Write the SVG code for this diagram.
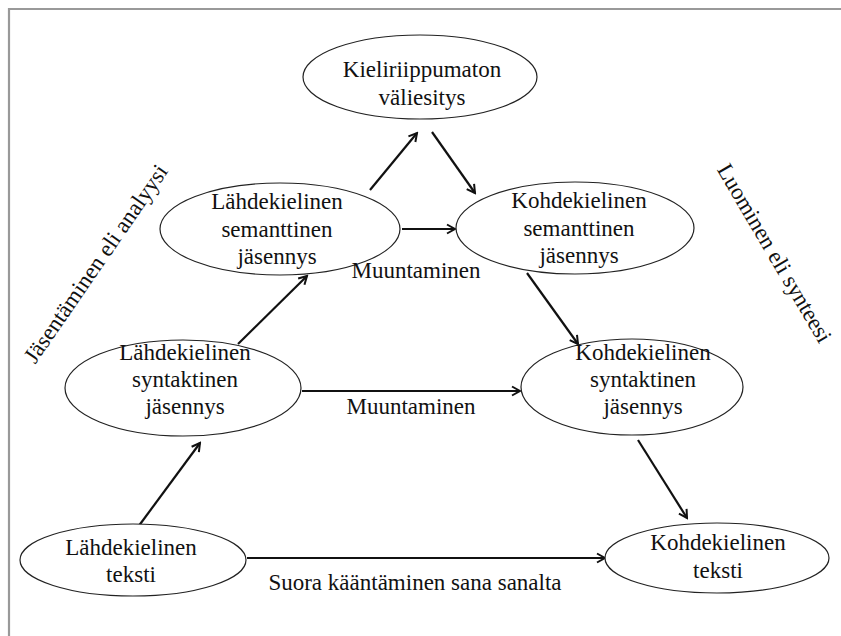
<svg xmlns="http://www.w3.org/2000/svg" width="841" height="636" viewBox="0 0 841 636">
<defs>
<style>
.n ellipse{fill:#fff;stroke:#222;stroke-width:1.2}
text{font-family:"Liberation Serif","Times New Roman",serif;font-size:23px;fill:#111;text-anchor:middle}
.c line{stroke:#111;stroke-width:2.2;marker-end:url(#ah)}
</style>
<marker id="ah" viewBox="0 0 12 12" refX="10" refY="6" markerWidth="12" markerHeight="12" markerUnits="userSpaceOnUse" orient="auto">
<path d="M2,1.5 L10,6 L2,10.5" fill="none" stroke="#111" stroke-width="2"/>
</marker>
</defs>
<rect width="841" height="636" fill="#fff"/>
<path d="M9,636 V9 H841" fill="none" stroke="#999" stroke-width="2.2"/>
<g class="c" id="connectors">
<line x1="138" y1="527" x2="200" y2="443"/>
<line x1="238" y1="344" x2="307" y2="276"/>
<line x1="370" y1="190" x2="417" y2="133"/>
<line x1="432" y1="132" x2="475" y2="193"/>
<line x1="402" y1="229" x2="455" y2="229"/>
<line x1="527" y1="273" x2="578" y2="344"/>
<line x1="302" y1="391" x2="520" y2="391"/>
<line x1="638" y1="440" x2="687" y2="518"/>
<line x1="247" y1="558" x2="605" y2="558"/>
</g>
<g class="n" id="n-top"><ellipse cx="420" cy="77" rx="117" ry="42"/><text x="422" y="77">Kieliriippumaton</text><text x="422" y="105">väliesitys</text></g>
<g class="n" id="n-ls"><ellipse cx="280" cy="229" rx="120" ry="46"/><text x="277" y="209">Lähdekielinen</text><text x="277" y="237">semanttinen</text><text x="277" y="264">jäsennys</text></g>
<g class="n" id="n-ks"><ellipse cx="575" cy="228" rx="119" ry="46"/><text x="579" y="208">Kohdekielinen</text><text x="579" y="236">semanttinen</text><text x="579" y="263">jäsennys</text></g>
<g class="n" id="n-lsy"><ellipse cx="183" cy="388" rx="118" ry="48"/><text x="185" y="360">Lähdekielinen</text><text x="185" y="387">syntaktinen</text><text x="185" y="414">jäsennys</text></g>
<g class="n" id="n-ksy"><ellipse cx="632" cy="387" rx="111" ry="48"/><text x="643" y="360">Kohdekielinen</text><text x="643" y="387">syntaktinen</text><text x="643" y="414">jäsennys</text></g>
<g class="n" id="n-lt"><ellipse cx="133" cy="560" rx="113" ry="36"/><text x="131" y="555">Lähdekielinen</text><text x="131" y="582">teksti</text></g>
<g class="n" id="n-kt"><ellipse cx="717" cy="558" rx="112" ry="35"/><text x="718" y="550">Kohdekielinen</text><text x="718" y="578">teksti</text></g>
<g id="labels">
<text x="411" y="414">Muuntaminen</text>
<text x="416" y="278">Muuntaminen</text>
<text x="415" y="590">Suora kääntäminen sana sanalta</text>
<text transform="translate(102,268) rotate(-55.4)">Jäsentäminen eli analyysi</text>
<text transform="translate(768,257) rotate(59.5)">Luominen eli synteesi</text>
</g>
</svg>
